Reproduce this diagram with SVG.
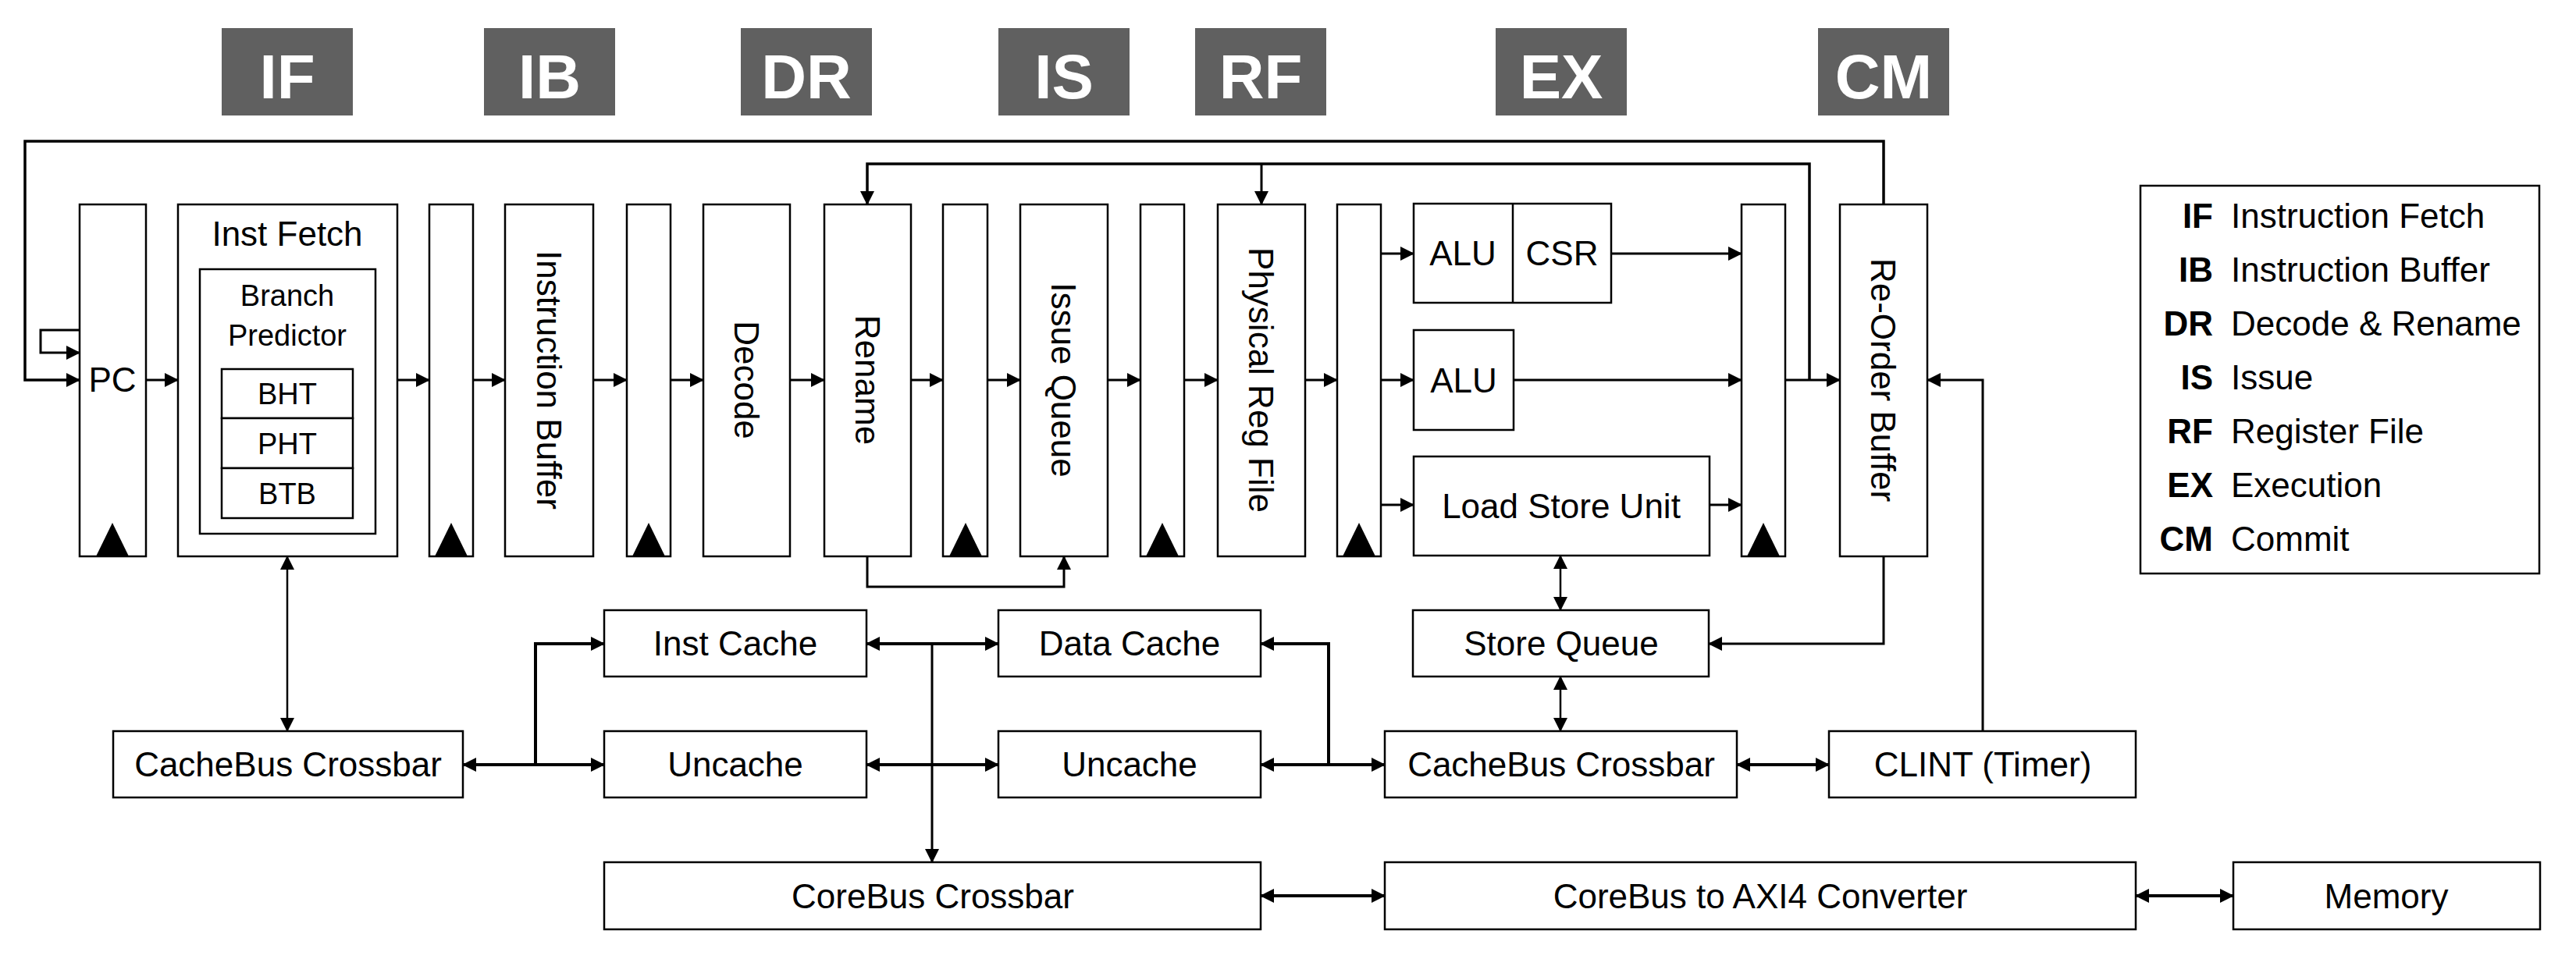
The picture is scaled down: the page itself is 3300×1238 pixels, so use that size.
<svg xmlns="http://www.w3.org/2000/svg" width="3300" height="1238" viewBox="0 0 3300 1238">
<style>
.bg{fill:#ffffff}
.box{fill:#ffffff;stroke:#000;stroke-width:2.5}
.t{font-family:"Liberation Sans",Arial,sans-serif;font-size:44px;fill:#000;text-anchor:middle}
.s{font-size:38px}
.stg rect{fill:#606060}
.stg text{font-family:"Liberation Sans",Arial,sans-serif;font-size:80px;font-weight:bold;fill:#fff;text-anchor:middle}
.lg{font-family:"Liberation Sans",Arial,sans-serif;font-size:44px;fill:#000}
.lgb{font-weight:bold;text-anchor:end}
.clk{fill:#000}
.w{fill:none;stroke:#000;stroke-width:3}
.wt{stroke-width:3.5}
.wb{stroke-width:4}
.wn{stroke-width:2.5}
.a{marker-end:url(#ah)}
.bi{marker-start:url(#ah);marker-end:url(#ah)}
</style>
<defs>
<marker id="ah" viewBox="0 0 18 18" refX="17" refY="9" markerWidth="18" markerHeight="18" markerUnits="userSpaceOnUse" orient="auto-start-reverse"><path d="M0,0 L18,9 L0,18 z" fill="#000"/></marker>
</defs>
<rect class="bg" x="0" y="0" width="3300" height="1238"/>

<g id="stages" class="stg">
<g id="stage-IF"><rect x="284" y="36" width="168" height="112"/><text x="368" y="126">IF</text></g>
<g id="stage-IB"><rect x="620" y="36" width="168" height="112"/><text x="704" y="126">IB</text></g>
<g id="stage-DR"><rect x="949" y="36" width="168" height="112"/><text x="1033" y="126">DR</text></g>
<g id="stage-IS"><rect x="1279" y="36" width="168" height="112"/><text x="1363" y="126">IS</text></g>
<g id="stage-RF"><rect x="1531" y="36" width="168" height="112"/><text x="1615" y="126">RF</text></g>
<g id="stage-EX"><rect x="1916" y="36" width="168" height="112"/><text x="2000" y="126">EX</text></g>
<g id="stage-CM"><rect x="2329" y="36" width="168" height="112"/><text x="2413" y="126">CM</text></g>
</g>

<g id="connectors">
<path class="w wt a" d="M2413,262 V181 H32 V487 H102"/>
<path class="w a" d="M102,423 H52 V452 H102"/>
<path class="w a" d="M187,487 H228"/>
<path class="w a" d="M509,487 H550"/>
<path class="w a" d="M606,487 H647"/>
<path class="w a" d="M760,487 H803"/>
<path class="w a" d="M859,487 H901"/>
<path class="w a" d="M1012,487 H1056"/>
<path class="w a" d="M1167,487 H1208"/>
<path class="w a" d="M1265,487 H1307"/>
<path class="w a" d="M1419,487 H1461"/>
<path class="w a" d="M1517,487 H1560"/>
<path class="w a" d="M1672,487 H1713"/>
<path class="w a" d="M1769,325 H1811"/>
<path class="w a" d="M1769,487 H1811"/>
<path class="w a" d="M1769,647 H1811"/>
<path class="w a" d="M2064,325 H2231"/>
<path class="w a" d="M1939,487 H2231"/>
<path class="w a" d="M2190,647 H2231"/>
<path class="w a" d="M2287,487 H2357"/>
<path class="w wt a" d="M2318,487 V210 H1111 V262"/>
<path class="w a" d="M1616,210 V262"/>
<path class="w a" d="M1111,713 V752 H1363 V713"/>
<path class="w wn bi" d="M368,713 V937"/>
<path class="w wb bi" d="M593,980 H774"/>
<path class="w wb a" d="M686,980 V825 H774"/>
<path class="w wb bi" d="M1110,825 H1279"/>
<path class="w a" d="M1194,825 V1105"/>
<path class="w wb bi" d="M1110,980 H1279"/>
<path class="w wb bi" d="M1615,980 H1774"/>
<path class="w wb a" d="M1702,980 V825 H1615"/>
<path class="w wn bi" d="M1999,712 V782"/>
<path class="w wn bi" d="M1999,867 V937"/>
<path class="w a" d="M2413,713 V825 H2189"/>
<path class="w wb bi" d="M2225,980 H2343"/>
<path class="w a" d="M2540,937 V487 H2469"/>
<path class="w wb bi" d="M1615,1148 H1774"/>
<path class="w wb bi" d="M2736,1148 H2861"/>
</g>

<g id="pc"><rect class="box" x="102" y="262" width="85" height="451"/><text class="t" x="144" y="502">PC</text><polygon class="clk" points="123,713 165,713 144,670"/></g>
<g id="inst-fetch">
<rect class="box" x="228" y="262" width="281" height="451"/>
<text class="t" x="368" y="315">Inst Fetch</text>
<g id="branch-predictor">
<rect class="box" x="256" y="345" width="225" height="339"/>
<text class="t s" x="368" y="392">Branch</text>
<text class="t s" x="368" y="443">Predictor</text>
<g id="bht"><rect class="box" x="284" y="473" width="168" height="63"/><text class="t s" x="368" y="518">BHT</text></g>
<g id="pht"><rect class="box" x="284" y="536" width="168" height="64"/><text class="t s" x="368" y="582">PHT</text></g>
<g id="btb"><rect class="box" x="284" y="600" width="168" height="64"/><text class="t s" x="368" y="646">BTB</text></g>
</g>
</g>
<g id="reg1"><rect class="box" x="550" y="262" width="56" height="451"/><polygon class="clk" points="557,713 599,713 578,670"/></g>
<g id="inst-buffer"><rect class="box" x="647" y="262" width="113" height="451"/><text class="t" transform="translate(688,487) rotate(90)">Instruction Buffer</text></g>
<g id="reg2"><rect class="box" x="803" y="262" width="56" height="451"/><polygon class="clk" points="810,713 852,713 831,670"/></g>
<g id="decode"><rect class="box" x="901" y="262" width="111" height="451"/><text class="t" transform="translate(941,487) rotate(90)">Decode</text></g>
<g id="rename"><rect class="box" x="1056" y="262" width="111" height="451"/><text class="t" transform="translate(1096,487) rotate(90)">Rename</text></g>
<g id="reg3"><rect class="box" x="1208" y="262" width="57" height="451"/><polygon class="clk" points="1216,713 1258,713 1237,670"/></g>
<g id="issue-queue"><rect class="box" x="1307" y="262" width="112" height="451"/><text class="t" transform="translate(1347,487) rotate(90)">Issue Queue</text></g>
<g id="reg4"><rect class="box" x="1461" y="262" width="56" height="451"/><polygon class="clk" points="1468,713 1510,713 1489,670"/></g>
<g id="phys-reg-file"><rect class="box" x="1560" y="262" width="112" height="451"/><text class="t" transform="translate(1600,487) rotate(90)">Physical Reg File</text></g>
<g id="reg5"><rect class="box" x="1713" y="262" width="56" height="451"/><polygon class="clk" points="1720,713 1762,713 1741,670"/></g>
<g id="alu-csr"><rect class="box" x="1811" y="261" width="253" height="127"/><line x1="1938" y1="261" x2="1938" y2="388" stroke="#000" stroke-width="2.5"/><text class="t" x="1874" y="340">ALU</text><text class="t" x="2001" y="340">CSR</text></g>
<g id="alu2"><rect class="box" x="1811" y="423" width="128" height="128"/><text class="t" x="1875" y="503">ALU</text></g>
<g id="lsu"><rect class="box" x="1811" y="585" width="379" height="127"/><text class="t" x="2000" y="664">Load Store Unit</text></g>
<g id="reg6"><rect class="box" x="2231" y="262" width="56" height="451"/><polygon class="clk" points="2238,713 2280,713 2259,670"/></g>
<g id="rob"><rect class="box" x="2357" y="262" width="112" height="451"/><text class="t" transform="translate(2397,487) rotate(90)">Re-Order Buffer</text></g>

<g id="cachebus-l"><rect class="box" x="145" y="937" width="448" height="85"/><text class="t" x="369" y="995">CacheBus Crossbar</text></g>
<g id="inst-cache"><rect class="box" x="774" y="782" width="336" height="85"/><text class="t" x="942" y="840">Inst Cache</text></g>
<g id="uncache-l"><rect class="box" x="774" y="937" width="336" height="85"/><text class="t" x="942" y="995">Uncache</text></g>
<g id="data-cache"><rect class="box" x="1279" y="782" width="336" height="85"/><text class="t" x="1447" y="840">Data Cache</text></g>
<g id="uncache-r"><rect class="box" x="1279" y="937" width="336" height="85"/><text class="t" x="1447" y="995">Uncache</text></g>
<g id="store-queue"><rect class="box" x="1810" y="782" width="379" height="85"/><text class="t" x="2000" y="840">Store Queue</text></g>
<g id="cachebus-r"><rect class="box" x="1774" y="937" width="451" height="85"/><text class="t" x="2000" y="995">CacheBus Crossbar</text></g>
<g id="clint"><rect class="box" x="2343" y="937" width="393" height="85"/><text class="t" x="2540" y="995">CLINT (Timer)</text></g>
<g id="corebus"><rect class="box" x="774" y="1105" width="841" height="86"/><text class="t" x="1195" y="1164">CoreBus Crossbar</text></g>
<g id="axi4"><rect class="box" x="1774" y="1105" width="962" height="86"/><text class="t" x="2255" y="1164">CoreBus to AXI4 Converter</text></g>
<g id="memory"><rect class="box" x="2861" y="1105" width="393" height="86"/><text class="t" x="3057" y="1164">Memory</text></g>

<g id="legend">
<rect class="box" x="2742" y="238" width="511" height="497"/>
<text class="lg lgb" x="2835" y="292">IF</text><text class="lg" x="2858" y="292">Instruction Fetch</text>
<text class="lg lgb" x="2835" y="361">IB</text><text class="lg" x="2858" y="361">Instruction Buffer</text>
<text class="lg lgb" x="2835" y="430">DR</text><text class="lg" x="2858" y="430">Decode &amp; Rename</text>
<text class="lg lgb" x="2835" y="499">IS</text><text class="lg" x="2858" y="499">Issue</text>
<text class="lg lgb" x="2835" y="568">RF</text><text class="lg" x="2858" y="568">Register File</text>
<text class="lg lgb" x="2835" y="637">EX</text><text class="lg" x="2858" y="637">Execution</text>
<text class="lg lgb" x="2835" y="706">CM</text><text class="lg" x="2858" y="706">Commit</text>
</g>
</svg>
